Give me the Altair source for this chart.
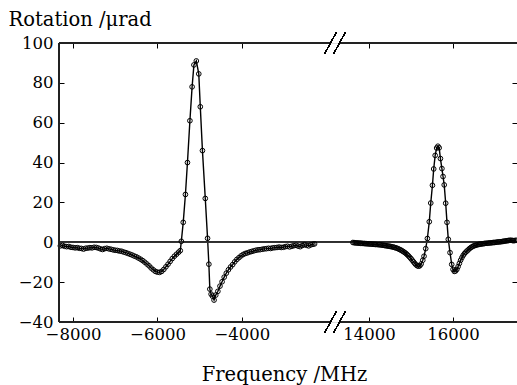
import altair as alt
import pandas as pd

# ---- data (frequency in MHz, rotation in µrad) ----
left_freq = [
    -8300, -8250, -8200, -8150, -8100, -8050, -8000, -7950, -7900, -7850,
    -7800, -7750, -7700, -7650, -7600, -7550, -7500, -7450, -7400, -7350,
    -7300, -7250, -7200, -7150, -7100, -7050, -7000, -6950, -6900, -6850,
    -6800, -6750, -6700, -6650, -6600, -6550, -6500, -6450, -6400, -6350,
    -6300, -6250, -6200, -6150, -6100, -6050, -6000, -5950, -5900, -5850,
    -5800, -5750, -5700, -5650, -5600, -5550, -5500, -5460,
    -5435, -5390, -5338, -5290, -5232, -5180, -5137, -5080, -5022, -4986,
    -4935, -4868, -4814, -4783, -4760, -4730, -4700, -4660, -4620, -4570,
    -4520, -4470, -4420, -4370, -4320, -4270, -4220, -4170, -4120, -4070,
    -4020, -3970, -3920, -3870, -3820, -3770, -3720, -3670, -3620, -3570,
    -3520, -3470, -3420, -3370, -3320, -3270, -3220, -3170, -3120, -3070,
    -3020, -2970, -2920, -2870, -2820, -2770, -2720, -2670, -2620, -2570,
    -2520, -2470, -2420, -2370, -2320, -2280,
]
left_rot = [
    -1.8, -1.6, -2.0, -2.2, -2.1, -2.5, -2.6, -2.8, -2.7, -3.0,
    -3.1, -3.4, -3.0, -2.9, -2.7, -2.8, -2.5, -2.6, -2.9, -3.3,
    -3.6, -3.2, -3.0, -3.3, -3.5, -3.8, -4.0, -4.1, -4.4, -4.5,
    -4.9, -5.2, -5.6, -6.0, -6.4, -6.9, -7.3, -7.9, -8.5, -9.2,
    -10.0, -10.9, -11.8, -12.9, -13.8, -14.6, -15.0, -15.1, -14.6, -13.6,
    -12.3, -11.0, -9.6, -8.2, -7.0, -6.0, -5.0, -4.2,
    0.5, 10.0, 24.0, 40.0, 61.0, 78.0, 89.0, 91.0, 84.5, 68.0,
    46.0, 22.0, 2.0, -11.0, -23.5, -26.0, -27.0, -29.0, -26.5, -24.6,
    -22.0, -19.8, -17.5, -15.5, -13.8, -12.4, -11.2, -9.8, -8.6, -7.7,
    -6.8, -6.1, -5.6, -5.3, -4.9, -4.6, -4.3, -4.0, -3.8, -3.7,
    -3.5, -3.3, -3.2, -3.0, -3.1, -2.8, -2.7, -2.6, -2.4, -2.6,
    -2.5, -2.2, -2.0, -2.3, -2.0, -1.7, -1.5, -1.9, -2.2, -1.6,
    -1.2, -1.5, -1.8, -1.3, -1.0, -0.8,
]

right_freq = [
    13620, 13650, 13680, 13710, 13740, 13770, 13800, 13830, 13860, 13890,
    13920, 13950, 13980, 14010, 14040, 14070, 14100, 14130, 14160, 14190,
    14220, 14250, 14280, 14310, 14340, 14370, 14400, 14430, 14460, 14490,
    14520, 14550, 14580, 14610, 14640, 14670, 14700, 14730, 14760, 14790,
    14820, 14850, 14880, 14910, 14940, 14970, 15000, 15030, 15060, 15090,
    15120, 15150, 15180, 15210, 15240,
    15280, 15310, 15350, 15390, 15435, 15470, 15510, 15540, 15575, 15610,
    15640, 15670, 15700, 15735, 15762, 15790, 15825, 15856, 15887, 15928,
    15968, 16000, 16030, 16060,
    16090, 16120, 16150, 16180, 16210, 16240, 16270, 16300, 16330, 16360,
    16390, 16420, 16450, 16480, 16510, 16540, 16570, 16600, 16630, 16660,
    16690, 16720, 16750, 16780, 16810, 16840, 16870, 16900, 16930, 16960,
    16990, 17020, 17050, 17080, 17110, 17140, 17170, 17200, 17230, 17260,
    17290, 17320, 17350, 17380, 17410, 17440, 17470, 17500,
]
right_rot = [
    -0.1, -0.2, -0.3, -0.3, -0.4, -0.4, -0.5, -0.5, -0.6, -0.6,
    -0.7, -0.7, -0.8, -0.8, -0.9, -0.9, -1.0, -1.0, -1.1, -1.1,
    -1.2, -1.2, -1.3, -1.4, -1.5, -1.6, -1.7, -1.8, -1.9, -2.0,
    -2.1, -2.3, -2.4, -2.6, -2.8, -3.0, -3.3, -3.6, -3.9, -4.3,
    -4.7, -5.1, -5.6, -6.2, -6.8, -7.5, -8.2, -9.0, -9.8, -10.6,
    -11.3, -11.8, -12.0, -11.8, -10.9,
    -9.0, -7.0, -3.2, 1.9, 10.3, 19.7, 28.6, 36.8, 43.6, 47.3,
    48.2, 47.4, 42.0, 37.0, 33.0, 28.8, 19.6, 10.0, 1.5, -5.2,
    -11.1, -13.6, -14.6, -14.4,
    -13.6, -12.2, -10.6, -9.0, -7.7, -6.6, -5.7, -5.0, -4.4, -3.8,
    -3.2, -2.7, -2.3, -1.9, -1.7, -1.5, -1.3, -1.1, -1.0, -0.9,
    -0.8, -0.7, -0.6, -0.5, -0.5, -0.4, -0.3, -0.3, -0.2, -0.1,
    -0.1, 0.0, 0.1, 0.2, 0.2, 0.3, 0.4, 0.5, 0.6, 0.7,
    0.8, 0.9, 1.0, 1.0, 0.9, 0.8, 0.9, 1.0,
]

x_ticks = [-8000, -6000, -4000, 14000, 16000]
y_ticks = [-40, -20, 0, 20, 40, 60, 80, 100]
x_title = "Frequency /MHz"
y_title = "Rotation /\u03bcrad"

df = pd.concat([
    pd.DataFrame({"freq": left_freq, "rot": left_rot, "seg": "low"}),
    pd.DataFrame({"freq": right_freq, "rot": right_rot, "seg": "high"}),
], ignore_index=True)

FONT = "DejaVu Serif"
W, H = 458, 279
BRK = 276  # pixel position of the axis break

xscale = alt.Scale(domain=[-8332, -1796, 13194, 17520], range=[0, BRK, BRK, W],
                   nice=False, zero=False)
yscale = alt.Scale(domain=[-40, 100], nice=False, zero=False)

x_bottom = alt.X("freq:Q", scale=xscale, axis=alt.Axis(
    orient="bottom", values=x_ticks, format="d", offset=-5, tickSize=5,
    tickColor="black", tickWidth=1, domain=False, grid=False,
    labelPadding=4, labelFont=FONT, labelFontSize=16.5, labelColor="black",
    title=x_title, titleFont=FONT, titleFontSize=19.5, titleFontWeight="normal",
    titleColor="black", titleX=225, titleY=63, titleBaseline="alphabetic",
    titleAlign="center"))
y_left = alt.Y("rot:Q", scale=yscale, axis=alt.Axis(
    orient="left", values=y_ticks, format="d", offset=-5, tickSize=5,
    tickColor="black", tickWidth=1, domain=False, grid=False,
    labelPadding=6, labelFont=FONT, labelFontSize=16.5, labelColor="black",
    title=y_title, titleFont=FONT, titleFontSize=19.5, titleFontWeight="normal",
    titleColor="black", titleAngle=0, titleX=-56, titleY=-18,
    titleAlign="left", titleBaseline="alphabetic"))
x_top = alt.X("freq:Q", scale=xscale, axis=alt.Axis(
    orient="top", values=x_ticks, offset=-5, tickSize=5, tickColor="black",
    domain=False, grid=False, labels=False, title=None))
y_right = alt.Y("rot:Q", scale=yscale, axis=alt.Axis(
    orient="right", values=y_ticks, offset=-5, tickSize=5, tickColor="black",
    domain=False, grid=False, labels=False, title=None))
x_plain = alt.X("freq:Q", scale=xscale, axis=None)
y_plain = alt.Y("rot:Q", scale=yscale, axis=None)

base = alt.Chart(df)

zero = base.mark_rule(color="#333", strokeWidth=0.8).encode(
    y=alt.datum(0, scale=yscale, axis=None))
line = base.mark_line(color="black", strokeWidth=1.4).encode(
    x=x_bottom, y=y_left, detail="seg:N", order="freq:Q")
pts = base.mark_point(shape="circle", filled=False, size=22, color="black",
                      strokeWidth=1, opacity=1).encode(x=x_plain, y=y_plain)
mirror = base.mark_point(opacity=0).encode(x=x_top, y=y_right)

frame_color = "#222"
fw = 1.2
gap_l, gap_r = BRK - 4, BRK + 4
frames = [
    base.mark_rule(color=frame_color, strokeWidth=fw).encode(
        x=alt.value(0), x2=alt.value(gap_l), y=alt.value(0)),
    base.mark_rule(color=frame_color, strokeWidth=fw).encode(
        x=alt.value(gap_r), x2=alt.value(W), y=alt.value(0)),
    base.mark_rule(color=frame_color, strokeWidth=fw).encode(
        x=alt.value(0), x2=alt.value(gap_l), y=alt.value(H)),
    base.mark_rule(color=frame_color, strokeWidth=fw).encode(
        x=alt.value(gap_r), x2=alt.value(W), y=alt.value(H)),
    base.mark_rule(color=frame_color, strokeWidth=fw).encode(
        x=alt.value(0), y=alt.value(0), y2=alt.value(H)),
]
slashes = []
for yc in (0, H):
    for xc in (BRK - 4.5, BRK + 4.5):
        slashes.append(base.mark_rule(color="black", strokeWidth=1).encode(
            x=alt.value(xc - 6), y=alt.value(yc + 11),
            x2=alt.value(xc + 6), y2=alt.value(yc - 11)))

chart = alt.layer(line, zero, pts, mirror, *frames, *slashes).resolve_axis(
    x="independent", y="independent"
).properties(
    width=W, height=H,
    autosize=alt.AutoSizeParams(type="none"),
    padding={"left": 59, "top": 43, "right": 0, "bottom": 63},
).configure_view(stroke=None).configure(background="white")

chart.save("out.html", embed_options={"renderer": "svg", "actions": False})
